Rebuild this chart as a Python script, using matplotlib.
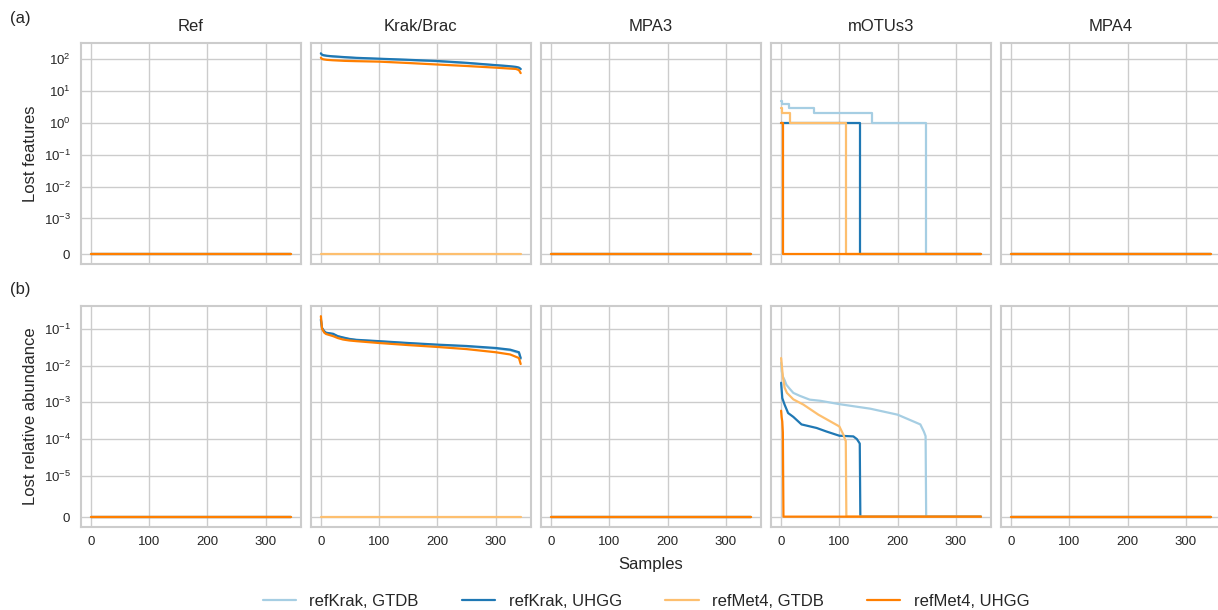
import matplotlib
matplotlib.use("Agg")
import matplotlib.pyplot as plt
import seaborn as sns

# panels and series
panels = ["Ref", "Krak/Brac", "MPA3", "mOTUs3", "MPA4"]
series_labels = ["refKrak, GTDB", "refKrak, UHGG", "refMet4, GTDB", "refMet4, UHGG"]
series_colors = ["#a6cee3", "#1f78b4", "#fdbf6f", "#ff7f00"]

# flat zero line over all samples (0..343)
zero_x = [0, 343]
zero_y = [0, 0]

# Krak/Brac, lost features
krak_feat_x = [0, 2, 5, 10, 20, 40, 60, 100, 150, 200, 250, 300, 320, 335, 340, 343]
krak_gtdb_feat = [150, 138, 133, 128, 123, 116, 110, 103, 95, 87, 76, 65, 61, 57, 54, 49]
krak_uhgg_feat = [155, 140, 135, 130, 125, 118, 112, 105, 97, 89, 78, 66, 62, 58, 55, 50]
met4_uhgg_feat = [113, 103, 100, 97, 94, 90, 88, 85, 77, 69, 62, 55, 52, 50, 46, 37]

# mOTUs3, lost features (step counts)
motus_krak_gtdb_feat_x = [0, 2, 14, 56, 156, 249, 343]
motus_krak_gtdb_feat = [5, 4, 3, 2, 1, 0, 0]
motus_krak_uhgg_feat_x = [0, 136, 343]
motus_krak_uhgg_feat = [1, 0, 0]
motus_met4_gtdb_feat_x = [0, 1, 16, 112, 343]
motus_met4_gtdb_feat = [3, 2, 1, 0, 0]
motus_met4_uhgg_feat_x = [0, 4, 343]
motus_met4_uhgg_feat = [1, 0, 0]

# Krak/Brac, lost relative abundance
krak_abund_x = [0, 2, 6, 9, 21, 29, 38, 49, 61, 100, 150, 200, 250, 300, 325, 340, 343]
krak_gtdb_abund = [0.17, 0.1, 0.083, 0.076, 0.071, 0.062, 0.057, 0.052, 0.049, 0.045, 0.040, 0.036, 0.033, 0.029, 0.026, 0.022, 0.015]
krak_uhgg_abund = [0.18, 0.105, 0.085, 0.078, 0.073, 0.063, 0.058, 0.053, 0.050, 0.046, 0.041, 0.037, 0.034, 0.030, 0.027, 0.023, 0.016]
met4_uhgg_abund = [0.22, 0.1, 0.078, 0.072, 0.063, 0.056, 0.051, 0.048, 0.046, 0.041, 0.036, 0.032, 0.028, 0.023, 0.020, 0.016, 0.011]

# mOTUs3, lost relative abundance
motus_krak_gtdb_abund_x = [0, 1, 3, 6, 9, 15, 21, 32, 49, 67, 100, 153, 200, 239, 245, 248, 249, 343]
motus_krak_gtdb_abund = [0.012, 0.007, 0.005, 0.004, 0.003, 0.0023, 0.0018, 0.0015, 0.00118, 0.0011,
                         0.00089, 0.00067, 0.00046, 0.00025, 0.00016, 0.00012, 0, 0]
motus_krak_uhgg_abund_x = [0, 2, 6, 12, 21, 35, 61, 78, 100, 124, 130, 134, 135, 136, 343]
motus_krak_uhgg_abund = [0.0034, 0.0013, 0.00086, 0.00051, 0.0004, 0.00025, 0.0002, 0.00016, 0.000123,
                         0.000118, 0.0001, 0.00008, 0.000075, 0, 0]
motus_met4_gtdb_abund_x = [0, 3, 6, 10, 21, 38, 64, 100, 107, 110, 111, 112, 343]
motus_met4_gtdb_abund = [0.016, 0.005, 0.0025, 0.0018, 0.0012, 0.00087, 0.00046, 0.00022, 0.00013,
                         0.000095, 0.00009, 0, 0]
motus_met4_uhgg_abund_x = [0, 1, 2, 3, 4, 343]
motus_met4_uhgg_abund = [0.00059, 0.00038, 0.0003, 0.00015, 0, 0]

zeros4 = [(zero_x, zero_y)] * 4
feat_data = {
    "Ref": zeros4,
    "Krak/Brac": [(krak_feat_x, krak_gtdb_feat), (krak_feat_x, krak_uhgg_feat),
                  (zero_x, zero_y), (krak_feat_x, met4_uhgg_feat)],
    "MPA3": zeros4,
    "mOTUs3": [(motus_krak_gtdb_feat_x, motus_krak_gtdb_feat), (motus_krak_uhgg_feat_x, motus_krak_uhgg_feat),
               (motus_met4_gtdb_feat_x, motus_met4_gtdb_feat), (motus_met4_uhgg_feat_x, motus_met4_uhgg_feat)],
    "MPA4": zeros4,
}
abund_data = {
    "Ref": zeros4,
    "Krak/Brac": [(krak_abund_x, krak_gtdb_abund), (krak_abund_x, krak_uhgg_abund),
                  (zero_x, zero_y), (krak_abund_x, met4_uhgg_abund)],
    "MPA3": zeros4,
    "mOTUs3": [(motus_krak_gtdb_abund_x, motus_krak_gtdb_abund), (motus_krak_uhgg_abund_x, motus_krak_uhgg_abund),
               (motus_met4_gtdb_abund_x, motus_met4_gtdb_abund), (motus_met4_uhgg_abund_x, motus_met4_uhgg_abund)],
    "MPA4": zeros4,
}

sns.set_style("whitegrid")
plt.rcParams["font.family"] = ["Liberation Sans", "DejaVu Sans"]
plt.rcParams["axes.edgecolor"] = "0.8"
plt.rcParams["axes.linewidth"] = 1.5

fig, axes = plt.subplots(2, 5, figsize=(12.18, 6.1), dpi=100, sharex=True, sharey="row")
fig.subplots_adjust(left=0.0663, right=1.0025, top=0.929, bottom=0.1366, wspace=0.047, hspace=0.192)

handles = []
for j, name in enumerate(panels):
    ax_top = axes[0, j]
    ax_bot = axes[1, j]
    for k, (x, y) in enumerate(feat_data[name]):
        style = "steps-post" if name == "mOTUs3" else "default"
        line, = ax_top.plot(x, y, color=series_colors[k], lw=1.6, drawstyle=style, label=series_labels[k])
        if j == 0:
            handles.append(line)
    for k, (x, y) in enumerate(abund_data[name]):
        ax_bot.plot(x, y, color=series_colors[k], lw=1.6)
    ax_top.set_title(name, fontsize=12, pad=9)
    ax_top.set_yscale("symlog", linthresh=1e-3)
    ax_bot.set_yscale("symlog", linthresh=1e-5)

axes[0, 0].set_yticks([0, 1e-3, 1e-2, 1e-1, 1, 10, 100])
axes[1, 0].set_yticks([0, 1e-5, 1e-4, 1e-3, 1e-2, 1e-1])
axes[0, 0].set_xticks([0, 100, 200, 300])
for ax in axes.flat:
    ax.tick_params(labelsize=9.5, colors="0.15")
    ax.minorticks_off()
    ax.grid(True, color="0.8", lw=1)

axes[0, 0].set_ylabel("Lost features", fontsize=12)
axes[1, 0].set_ylabel("Lost relative abundance", fontsize=12)

fig.text(0.008, 0.97, "(a)", fontsize=12, ha="left", va="center")
fig.text(0.008, 0.525, "(b)", fontsize=12, ha="left", va="center")
fig.text(651 / 1218, 1 - 565 / 610, "Samples", fontsize=12, ha="center", va="center")

fig.legend(handles, series_labels, loc="center", bbox_to_anchor=(646 / 1218, 1 - 601 / 610),
           ncol=4, frameon=False, fontsize=12, columnspacing=2.6)

fig.savefig("out.png", dpi=100)
